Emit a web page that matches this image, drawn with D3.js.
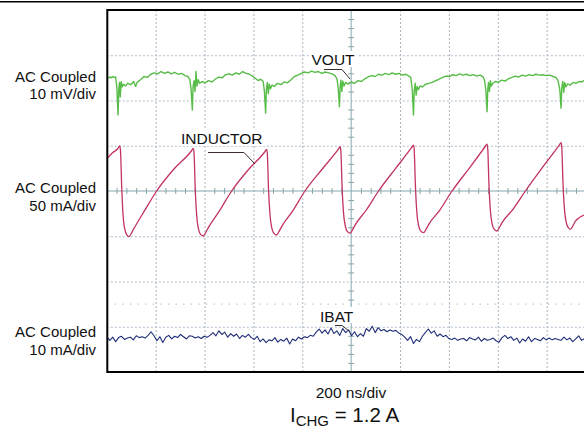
<!DOCTYPE html>
<html><head><meta charset="utf-8">
<script src="https://cdn.jsdelivr.net/npm/d3@7/dist/d3.min.js"></script>
<style>
body{margin:0;background:#fff}
svg{display:block}
text{font-family:"Liberation Sans",Arial,Helvetica,sans-serif;fill:#111}
</style>
</head><body><svg id="chart" width="584" height="429"></svg>
<script>
// ---- data ----
const timeDomainNs = [0, 2000];            // 10 div x 200 ns/div
const divDomain = [-4, 4];                 // 8 vertical divisions
const xGridNs = [200, 400, 600, 800, 1200, 1400, 1600, 1800];
const yGridDiv = [-3, -2, -1, 1, 2, 3];
const centerTimeNs = 1000;
const minorTickNs = [40,80,120,160,240,280,320,360,440,480,520,560,640,680,720,760,840,880,920,960,1040,1080,1120,1160,1240,1280,1320,1360,1440,1480,1520,1560,1640,1680,1720,1760,1840,1880,1920,1960];
const minorTickDiv = [-3.8,-3.6,-3.4,-3.2,-2.8,-2.6,-2.4,-2.2,-1.8,-1.6,-1.4,-1.2,-0.8,-0.6,-0.4,-0.2,0.2,0.4,0.6,0.8,1.2,1.4,1.6,1.8,2.2,2.4,2.6,2.8,3.2,3.4,3.6,3.8];

const channelNames = ["VOUT", "INDUCTOR", "IBAT"];
const channelUnitsPerDiv = [10, 50, 10];   // mV/div, mA/div, mA/div
const channelOffsetDiv = [2.5, 0, -3.25];
const channelColors = ["#58bd48", "#c2335e", "#1f2d78"];
const couplingLine1 = ["AC Coupled", "AC Coupled", "AC Coupled"];
const couplingLine2 = ["10 mV/div", "50 mA/div", "10 mA/div"];
const timebaseLabel = "200 ns/div";
const chargeLabel = ["I", "CHG", " = 1.2 A"];

// VOUT samples [time ns, mV]
const voutPoints = [[0,0.1],[6,-0.1],[12,0.2],[18,0.0],[24,0.3],[30,0.1],[36,0.2],[41,-2.0],[46,-8.2],[49,-2.5],[52,-1.0],[55,-4.2],[59,-0.8],[63,-2.0],[68,-1.4],[76,-1.8],[86,-1.2],[98,-1.5],[110,-0.8],[118,-1.9],[124,-1.0],[138,-0.4],[152,0.3],[166,0.1],[180,0.8],[194,1.1],[208,0.9],[222,1.4],[236,1.0],[250,1.3],[264,0.9],[278,1.2],[292,0.8],[306,1.0],[320,0.5],[332,0.3],[340,-0.4],[345,-2.5],[350,-7.1],[353,-2.0],[357,-0.6],[361,-3.0],[365,1.4],[369,-1.8],[374,-0.4],[380,-1.2],[390,-0.8],[402,-1.1],[416,-0.6],[430,-0.9],[444,-0.3],[458,0.2],[472,0.0],[486,0.7],[500,0.9],[514,0.6],[528,1.1],[542,0.8],[556,1.4],[570,1.0],[584,0.8],[598,0.3],[610,-0.2],[620,-0.6],[630,-0.3],[640,-0.8],[645,-3.0],[650,-7.8],[653,-2.6],[657,-1.0],[661,-3.5],[665,-1.4],[670,-2.4],[676,-1.6],[686,-1.9],[698,-1.2],[712,-1.5],[726,-0.9],[740,-1.1],[754,-0.4],[768,0.3],[782,0.6],[796,1.0],[810,1.3],[824,1.1],[838,1.5],[852,1.2],[866,1.4],[880,1.0],[894,1.3],[908,1.1],[922,0.9],[934,0.5],[942,-0.2],[947,-2.2],[952,-6.4],[955,-2.0],[958,-0.5],[962,-3.0],[966,-0.7],[971,-1.8],[978,-1.0],[988,-1.4],[1000,-0.9],[1014,-1.2],[1028,-0.6],[1042,-0.8],[1056,-0.2],[1070,0.2],[1084,0.5],[1098,0.3],[1112,0.8],[1126,0.6],[1140,1.0],[1154,0.7],[1168,1.1],[1182,0.8],[1196,1.0],[1210,0.6],[1224,0.8],[1236,0.4],[1244,0.1],[1250,-2.4],[1255,-8.2],[1258,-3.0],[1262,-1.2],[1266,-3.8],[1270,-1.9],[1275,-2.6],[1282,-1.8],[1292,-2.0],[1304,-1.4],[1318,-1.2],[1332,-1.0],[1346,-0.6],[1360,-0.3],[1374,0.1],[1388,0.4],[1402,0.3],[1416,0.7],[1430,0.5],[1444,0.9],[1458,0.6],[1472,0.8],[1486,0.5],[1500,0.7],[1514,0.4],[1528,0.6],[1540,0.2],[1546,-0.6],[1551,-2.5],[1556,-7.5],[1559,-2.8],[1562,-1.0],[1566,-3.0],[1570,-0.6],[1574,-1.8],[1580,-1.2],[1590,-0.8],[1602,-1.0],[1616,-0.5],[1630,-0.7],[1644,-0.2],[1658,0.1],[1672,0.4],[1686,0.2],[1700,0.6],[1714,0.4],[1728,0.7],[1742,0.5],[1756,0.8],[1770,0.6],[1784,0.7],[1798,0.5],[1812,0.6],[1826,0.3],[1838,0.1],[1846,-0.5],[1854,-2.6],[1859,-6.7],[1862,-2.2],[1866,-0.8],[1870,-3.2],[1874,-1.0],[1879,-2.0],[1886,-1.3],[1896,-1.6],[1908,-1.0],[1920,-1.2],[1932,-0.8],[1944,-0.9],[1955,-0.5]];

// Inductor current samples [time ns, mA]
const inductorPoints = [[0,35.4],[25,42.5],[45,46.7],[53,49.7],[56,44.7],[61,4.7],[67,-28.5],[74,-42.5],[82,-48.5],[91,-50.5],[99,-47.5],[111,-41.5],[154,-22],[204,0],[274,24],[346,44.2],[354,47.2],[357,42.2],[362,2.2],[368,-27.7],[375,-41.7],[383,-47.7],[395,-49.7],[403,-46.7],[415,-40.7],[461,-22],[511,0],[581,24],[646,43.1],[654,46.1],[657,41.1],[662,1.1],[668,-26.6],[675,-40.6],[683,-46.6],[695,-48.6],[703,-45.6],[715,-39.6],[761,-22],[811,0],[881,24],[947,45.9],[955,48.9],[958,43.9],[963,3.9],[969,-24.7],[976,-38.7],[984,-44.7],[996,-46.7],[1004,-43.7],[1016,-37.7],[1062,-21],[1112,0],[1182,25],[1247,47.8],[1255,50.8],[1258,45.8],[1263,5.8],[1269,-24.1],[1276,-38.1],[1284,-44.1],[1297,-46.1],[1305,-43.1],[1317,-37.1],[1363,-21],[1413,0],[1483,25],[1548,48.9],[1556,51.9],[1559,46.9],[1564,6.9],[1570,-22.2],[1577,-36.2],[1585,-42.2],[1597,-44.2],[1605,-41.2],[1617,-35.2],[1663,-20],[1713,0],[1783,26],[1851,50.4],[1859,53.4],[1862,48.4],[1867,8.4],[1873,-20.3],[1880,-34.3],[1888,-40.3],[1898,-42.3],[1906,-39.3],[1918,-33.3],[1955,-26.5]];

// IBAT samples, mA, one every ibatStepNs starting at 0 ns
const ibatStepNs = 12.07;
const ibatValues = [
 0.3,-0.5,0.2,-0.8,0.1,0.4,-0.3,0.0,0.2,-0.4,0.5,0.1,0.3,0.0,0.6,1.4,
 0.5,-0.6,0.3,-1.0,0.2,0.6,-0.2,0.4,0.1,0.8,0.3,-0.2,0.5,0.4,0.0,0.3,
 -0.1,0.4,0.2,0.6,1.2,0.5,1.6,0.8,1.3,0.2,1.0,0.4,0.9,-0.1,0.6,0.2,0.8,0.1,
 -0.3,0.4,-0.8,-0.2,-1.0,-0.4,-0.6,0.1,-0.9,-0.3,-0.7,0.0,-1.3,-0.2,-0.6,0.2,
 -0.2,0.3,0.1,0.6,0.4,1.3,2.0,1.1,1.8,0.9,2.2,1.0,1.6,0.6,2.1,1.2,1.8,
 0.5,1.4,0.3,1.0,0.4,2.1,1.5,2.6,1.2,2.3,1.6,1.9,1.4,1.8,1.5,1.7,1.1,
 0.8,0.2,-0.5,0.3,-1.2,-0.3,-0.8,0.4,1.2,2.0,1.1,1.6,0.4,0.9,0.3,0.6,-0.1,
 -0.3,0.0,-0.5,-0.2,-0.1,-0.6,0.1,-0.2,-0.4,0.2,-0.7,-0.1,-0.5,-0.3,0.0,-0.6,-0.9,
 0.1,0.6,-0.1,0.3,-0.5,0.0,-1.1,-0.2,-0.7,0.3,-0.8,-0.1,-0.3,-0.6,0.1,-0.4,0.0,
 -0.4,-0.1,-0.3,-0.5,0.2,-0.4,0.0,-0.8,-0.2,0.5,-0.5,-0.1];

// ---- drawing ----
const W = 584, H = 429;
const plot = {left: 106.8, right: 595.5, top: 10, bottom: 372};
const svg = d3.select("#chart");
svg.append("rect").attr("width", W).attr("height", H).attr("fill", "#fff");

const x = d3.scaleLinear().domain(timeDomainNs).range([plot.left, plot.right]);
const y = d3.scaleLinear().domain(divDomain).range([plot.bottom, plot.top]);
const toDiv = (ch, v) => channelOffsetDiv[ch] + v / channelUnitsPerDiv[ch];

// top rule
svg.append("line").attr("x1", 0).attr("x2", W).attr("y1", 1.8).attr("y2", 1.8)
  .attr("stroke", "#000").attr("stroke-width", 1.6);

const g = svg.append("g");

// grid (dotted)
const gx = g.append("g").attr("transform", `translate(0,${plot.bottom})`)
  .call(d3.axisBottom(x).tickValues(xGridNs).tickSize(-(plot.bottom - plot.top)).tickFormat(""));
gx.select(".domain").remove();
gx.selectAll("line").attr("stroke", "#a9b1ba").attr("stroke-width", 1).attr("stroke-dasharray", "2,2");

const gy = g.append("g").attr("transform", `translate(${plot.left},0)`)
  .call(d3.axisLeft(y).tickValues(yGridDiv).tickSize(-(plot.right - plot.left)).tickFormat(""));
gy.select(".domain").remove();
gy.selectAll("line").attr("stroke", "#aebdcc").attr("stroke-width", 1).attr("stroke-dasharray", "2,2");

// faint dotted marker row
g.append("line").attr("x1", plot.left + 8).attr("x2", W).attr("y1", y(-2.5)).attr("y2", y(-2.5))
  .attr("stroke", "#9fc2dc").attr("stroke-width", 1.2).attr("stroke-dasharray", "1.2,6.4");

// centre cross with minor ticks
const cc = "#86a7b0";
g.append("line").attr("x1", x(centerTimeNs)).attr("x2", x(centerTimeNs)).attr("y1", plot.top).attr("y2", plot.bottom)
  .attr("stroke", cc).attr("stroke-width", 1);
g.append("line").attr("x1", plot.left).attr("x2", plot.right).attr("y1", y(0)).attr("y2", y(0))
  .attr("stroke", cc).attr("stroke-width", 1);
[d3.axisTop(x), d3.axisBottom(x)].forEach(ax => {
  const a = g.append("g").attr("transform", `translate(0,${y(0)})`)
    .call(ax.tickValues(minorTickNs).tickSize(3).tickFormat(""));
  a.select(".domain").remove();
  a.selectAll("line").attr("stroke", cc);
});
[d3.axisLeft(y), d3.axisRight(y)].forEach(ax => {
  const a = g.append("g").attr("transform", `translate(${x(centerTimeNs)},0)`)
    .call(ax.tickValues(minorTickDiv).tickSize(3).tickFormat(""));
  a.select(".domain").remove();
  a.selectAll("line").attr("stroke", cc);
});

// white label backgrounds
const labelBoxes = [
  {ch: 0, x: 309, y: 51, w: 49, h: 16},
  {ch: 1, x: 178, y: 130, w: 88, h: 16},
  {ch: 2, x: 318, y: 307, w: 38, h: 16}
];
labelBoxes.forEach(b => g.append("rect").attr("x", b.x).attr("y", b.y).attr("width", b.w).attr("height", b.h).attr("fill", "#fff"));

// traces
const clip = svg.append("clipPath").attr("id", "plotclip").append("rect")
  .attr("x", plot.left).attr("y", plot.top).attr("width", W - plot.left).attr("height", plot.bottom - plot.top);
const traces = svg.append("g").attr("clip-path", "url(#plotclip)");

const lineV = d3.line().x(d => x(d[0])).y(d => y(toDiv(0, d[1])));
traces.append("path").datum(voutPoints).attr("d", lineV)
  .attr("fill", "none").attr("stroke", channelColors[0]).attr("stroke-width", 1.4).attr("stroke-linejoin", "round");

const lineI = d3.line().curve(d3.curveMonotoneX).x(d => x(d[0])).y(d => y(toDiv(1, d[1])));
traces.append("path").datum(inductorPoints).attr("d", lineI)
  .attr("fill", "none").attr("stroke", channelColors[1]).attr("stroke-width", 1.3);

const lineB = d3.line().x((d, i) => x(i * ibatStepNs)).y(d => y(toDiv(2, d)));
traces.append("path").datum(ibatValues).attr("d", lineB)
  .attr("fill", "none").attr("stroke", channelColors[2]).attr("stroke-width", 1.1).attr("stroke-linejoin", "round");

// frame
svg.append("rect").attr("x", plot.left + 0.5).attr("y", plot.top).attr("width", W).attr("height", plot.bottom - plot.top)
  .attr("fill", "none").attr("stroke", "#000").attr("stroke-width", 2);

// trace labels + leaders
const traceLabels = [
  {ch: 0, tx: 311.5, ty: 65, leader: [[324, 69.5], [342, 69.5], [350, 79]]},
  {ch: 1, tx: 181, ty: 144, leader: [[208, 152.5], [244, 152.5], [255, 164]]},
  {ch: 2, tx: 320, ty: 321.5, leader: [[335, 325.5], [342, 325.5], [349, 331]]}
];
traceLabels.forEach(l => {
  svg.append("text").attr("x", l.tx).attr("y", l.ty).attr("font-size", 15.5).text(channelNames[l.ch]);
  svg.append("path").attr("d", d3.line()(l.leader)).attr("fill", "none").attr("stroke", "#3b2d2d").attr("stroke-width", 1);
});

// left coupling labels
const leftLabelY = [[81.5, 99], [192.5, 210.5], [336.5, 354.5]];
leftLabelY.forEach((yy, i) => {
  svg.append("text").attr("x", 96).attr("y", yy[0]).attr("text-anchor", "end").attr("font-size", 15).text(couplingLine1[i]);
  svg.append("text").attr("x", 96).attr("y", yy[1]).attr("text-anchor", "end").attr("font-size", 15).text(couplingLine2[i]);
});

// bottom labels
svg.append("text").attr("x", 351).attr("y", 397.5).attr("text-anchor", "middle").attr("font-size", 15.5).text(timebaseLabel);
const t = svg.append("text").attr("x", 344.5).attr("y", 422).attr("text-anchor", "middle").attr("font-size", 20.5);
t.append("tspan").text(chargeLabel[0]);
t.append("tspan").attr("font-size", 15).attr("dy", 4).text(chargeLabel[1]);
t.append("tspan").attr("dy", -4).text(chargeLabel[2]);
</script>
</body></html>
